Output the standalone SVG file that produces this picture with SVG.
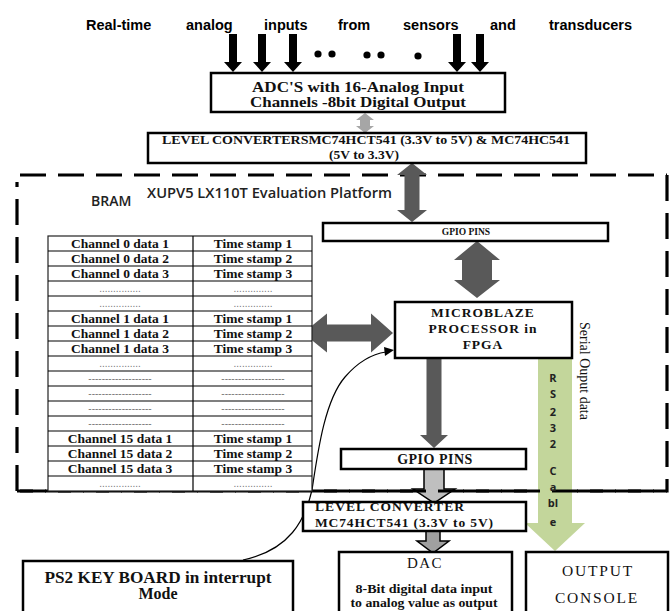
<svg xmlns="http://www.w3.org/2000/svg" width="670" height="611" viewBox="0 0 670 611">
<style>
.box{fill:#fff;stroke:#000;stroke-width:2.5}
.thin{fill:none;stroke:#000;stroke-width:1.2}
.sb{font-family:"Liberation Serif","Times New Roman",serif;font-weight:bold;fill:#111}
.sr{font-family:"Liberation Serif","Times New Roman",serif;fill:#111}
.ss{font-family:"Liberation Sans",Arial,sans-serif;font-weight:bold;fill:#000}
.cal{font-family:"Open Sans","Liberation Sans",sans-serif;fill:#222}
.dg{fill:#595959}
.dash{fill:none;stroke:#000;stroke-width:3.2;stroke-dasharray:26 12}
.cell{font-family:"Liberation Serif","Times New Roman",serif;font-weight:bold;font-size:13.5px;fill:#111;text-anchor:middle}
.dots{font-family:"Liberation Sans",sans-serif;font-size:10px;fill:#777;text-anchor:middle}
</style>

<!-- top label -->
<g id="inputs-label">
<text class="ss" font-size="14.5" y="30"><tspan x="86">Real-time</tspan><tspan x="186">analog</tspan><tspan x="264">inputs</tspan><tspan x="338">from</tspan><tspan x="403">sensors</tspan><tspan x="490">and</tspan><tspan x="549">transducers</tspan></text>
</g>

<!-- input arrows -->
<g id="input-arrows" fill="#000">
<polygon points="229,34 237,34 237,62 242,62 233,72 224,62 229,62"/>
<polygon points="258,34 266,34 266,62 271,62 262,72 253,62 258,62"/>
<polygon points="289,34 297,34 297,62 302,62 293,72 284,62 289,62"/>
<polygon points="453,34 461,34 461,62 466,62 457,72 448,62 453,62"/>
<polygon points="476,34 484,34 484,62 489,62 480,72 471,62 476,62"/>
<circle cx="318" cy="54" r="3.6"/><circle cx="332" cy="54" r="3.6"/>
<circle cx="367" cy="55" r="3.6"/><circle cx="381" cy="55" r="3.6"/>
<circle cx="418" cy="56" r="3.6"/>
</g>

<!-- dashed platform boundary -->
<g id="platform">
<path class="dash" d="M20,175 H667 M667,175 V491 H17 M17,491 V182"/>
<rect x="133" y="180" width="262" height="23" fill="#fff"/>
<text class="cal" x="147" y="198" font-size="14" font-weight="600" textLength="245" lengthAdjust="spacingAndGlyphs">XUPV5 LX110T  Evaluation Platform</text>
<text class="cal" x="91" y="206" font-size="14" font-weight="600">BRAM</text>
</g>

<!-- connectors -->
<g id="connectors">
<polygon fill="#a6a6a6" points="365,113 374,120 370,120 370,126 374,126 365,133 356,126 360,126 360,120 356,120"/>
<polygon class="dg" points="412,163 427,175 419.5,175 419.5,210 427,210 412,222 397,210 404.5,210 404.5,175 397,175"/>
<polygon class="dg" points="477,241 500,260 492,260 492,280 500,280 477,298 454,280 462,280 462,260 454,260"/>
<polygon class="dg" points="303,333 327,313.5 327,324.5 371,324.5 371,313.5 393,333 371,352.5 371,341.5 327,341.5 327,352.5"/>
<polygon class="dg" points="426.5,358 441.5,358 441.5,435 448,435 434,448 420,435 426.5,435"/>
<polygon fill="#bfbfbf" stroke="#000" stroke-width="1.5" points="424,469 444,469 444,489 455,489 434,503 413,489 424,489"/>
<polygon fill="#a0a0a0" stroke="#000" stroke-width="1.5" points="426,531 440,531 440,541 449,541 433,553 417,541 426,541"/>
<polygon fill="#c3d69b" points="538,358 572,358 572,523 585,523 555,551 525,523 538,523"/>
<path class="thin" stroke-width="1.5" d="M243,560 C290,550 305,520 312,490 C318,450 325,400 345,377 C358,362 372,354 386,352"/>
<polygon fill="#000" points="394,350 384,347 385,356"/>
</g>

<!-- rail over green arrow -->
<path class="dash" d="M20,491 H667"/>

<g id="adc">
<rect class="box" x="211" y="73" width="294" height="39"/>
<text class="sb" font-size="15" text-anchor="middle" x="358" y="92" textLength="212" lengthAdjust="spacingAndGlyphs">ADC'S with 16-Analog Input</text>
<text class="sb" font-size="15" text-anchor="middle" x="358" y="107" textLength="216" lengthAdjust="spacingAndGlyphs">Channels -8bit Digital Output</text>
</g>

<g id="level-converters">
<rect class="box" x="148" y="133" width="438" height="30"/>
<text class="sb" font-size="13" text-anchor="middle" x="366" y="144" textLength="408" lengthAdjust="spacingAndGlyphs">LEVEL CONVERTERSMC74HCT541 (3.3V to 5V) &amp; MC74HC541</text>
<text class="sb" font-size="13.5" text-anchor="middle" x="364" y="159">(5V to 3.3V)</text>
</g>

<g id="gpio-top">
<rect class="box" x="323" y="223" width="285" height="18"/>
<text class="sb" font-size="9.5" text-anchor="middle" x="466" y="235">GPIO PINS</text>
</g>

<g id="microblaze">
<rect class="box" x="395" y="302" width="177" height="56"/>
<text class="sb" font-size="13.5" text-anchor="middle" letter-spacing="1" x="483" y="317">MICROBLAZE</text>
<text class="sb" font-size="13.5" text-anchor="middle" letter-spacing="1" x="483" y="333">PROCESSOR  in</text>
<text class="sb" font-size="13.5" text-anchor="middle" letter-spacing="1" x="483" y="349">FPGA</text>
</g>

<g id="bram-table">
<rect x="48" y="236" width="264" height="255" fill="#fff" stroke="#222" stroke-width="1.2"/>
<path class="thin" d="M193,236 V491 M48,251 H312 M48,266 H312 M48,281 H312 M48,296 H312 M48,311 H312 M48,326 H312 M48,341 H312 M48,356 H312 M48,371 H312 M48,386 H312 M48,401 H312 M48,416 H312 M48,431 H312 M48,446 H312 M48,461 H312 M48,476 H312"/>
<text class="cell" x="120" y="248">Channel 0 data 1</text><text class="cell" x="253" y="248">Time stamp  1</text>
<text class="cell" x="120" y="263">Channel 0 data 2</text><text class="cell" x="253" y="263">Time stamp  2</text>
<text class="cell" x="120" y="278">Channel 0 data 3</text><text class="cell" x="253" y="278">Time stamp  3</text>
<text class="dots" x="120" y="292">...............</text><text class="dots" x="253" y="292">..............</text>
<text class="dots" x="120" y="307">...............</text><text class="dots" x="253" y="307">..............</text>
<text class="cell" x="120" y="323">Channel 1 data 1</text><text class="cell" x="253" y="323">Time stamp  1</text>
<text class="cell" x="120" y="338">Channel 1 data 2</text><text class="cell" x="253" y="338">Time stamp  2</text>
<text class="cell" x="120" y="353">Channel 1 data 3</text><text class="cell" x="253" y="353">Time stamp  3</text>
<text class="dots" x="120" y="367">...............</text><text class="dots" x="253" y="367">..............</text>
<text class="dots" x="120" y="382">-------------------</text><text class="dots" x="253" y="382">-------------------</text>
<text class="dots" x="120" y="397">-------------------</text><text class="dots" x="253" y="397">-------------------</text>
<text class="dots" x="120" y="412">-------------------</text><text class="dots" x="253" y="412">-------------------</text>
<text class="dots" x="120" y="427">-------------------</text><text class="dots" x="253" y="427">-------------------</text>
<text class="cell" x="120" y="443">Channel 15 data 1</text><text class="cell" x="253" y="443">Time stamp  1</text>
<text class="cell" x="120" y="458">Channel 15 data 2</text><text class="cell" x="253" y="458">Time stamp  2</text>
<text class="cell" x="120" y="473">Channel 15 data 3</text><text class="cell" x="253" y="473">Time stamp  3</text>
<text class="dots" x="120" y="487">...............</text><text class="dots" x="253" y="487">..............</text>
</g>

<g id="rs232-label">
<text class="cal" font-size="11" font-weight="bold" fill="#333" text-anchor="middle" x="553"><tspan x="553" y="382">R</tspan><tspan x="553" y="398">S</tspan><tspan x="553" y="416">2</tspan><tspan x="553" y="432">3</tspan><tspan x="553" y="448">2</tspan><tspan x="553" y="475">C</tspan><tspan x="553" y="491">a</tspan><tspan x="553" y="507">bl</tspan><tspan x="553" y="526">e</tspan></text>
<text class="sr" font-size="14" transform="translate(580,322) rotate(90)">Serial Ouput data</text>
</g>

<g id="gpio-bottom">
<rect class="box" x="341" y="449" width="185" height="20"/>
<text class="sb" font-size="14" text-anchor="middle" letter-spacing="0.5" x="435" y="464">GPIO PINS</text>
</g>

<g id="level-converter">
<rect class="box" x="303" y="502" width="223" height="29"/>
<text class="sb" font-size="13.5" x="315" y="511" textLength="149" lengthAdjust="spacing">LEVEL CONVERTER</text>
<text class="sb" font-size="13.5" x="315" y="527" textLength="178" lengthAdjust="spacing">MC74HCT541 (3.3V to 5V)</text>
</g>

<g id="dac">
<rect class="box" x="339" y="552" width="173" height="64"/>
<text class="sr" font-size="15" text-anchor="middle" letter-spacing="1.5" x="425" y="568">DAC</text>
<text class="sb" font-size="13.5" text-anchor="middle" x="424" y="593" textLength="137" lengthAdjust="spacingAndGlyphs">8-Bit digital data input</text>
<text class="sb" font-size="13.5" text-anchor="middle" x="424" y="607" textLength="147" lengthAdjust="spacingAndGlyphs">to analog value as output</text>
</g>

<g id="output-console">
<rect class="box" x="526" y="552" width="142" height="64"/>
<text class="sr" font-size="15.5" text-anchor="middle" letter-spacing="1.8" x="598" y="576">OUTPUT</text>
<text class="sr" font-size="15.5" text-anchor="middle" letter-spacing="1.8" x="597" y="603">CONSOLE</text>
</g>

<g id="keyboard">
<rect class="box" x="23" y="561" width="270" height="60"/>
<text class="sb" font-size="16" text-anchor="middle" x="158" y="583" textLength="227" lengthAdjust="spacingAndGlyphs">PS2 KEY BOARD in interrupt</text>
<text class="sb" font-size="16" text-anchor="middle" x="158" y="599">Mode</text>
</g>
</svg>
